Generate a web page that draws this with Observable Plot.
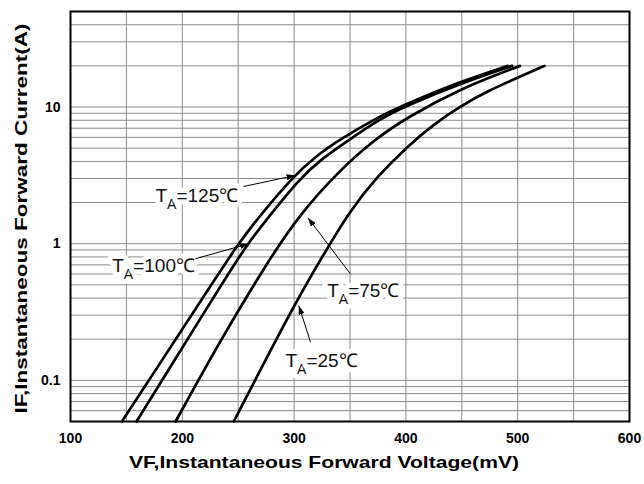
<!DOCTYPE html>
<html><head><meta charset="utf-8">
<script src="https://cdn.jsdelivr.net/npm/d3@7"></script>
<script src="https://cdn.jsdelivr.net/npm/@observablehq/plot@0.6"></script>
<style>body{margin:0;background:#fff}</style>
</head><body><div id="chart"></div>
<script>
// axis ticks and grid
const xTicks = [100, 200, 300, 400, 500, 600];
const yTicks = [0.1, 1, 10];
const xGrid = [100, 150, 200, 250, 300, 350, 400, 450, 500, 550, 600];
const yGrid = [0.05, 0.06, 0.07, 0.08, 0.09,
  0.1, 0.2, 0.3, 0.4, 0.5, 0.6, 0.7, 0.8, 0.9,
  1, 2, 3, 4, 5, 6, 7, 8, 9,
  10, 20, 30, 40];

// series: VF (mV) and IF (A)
const series = ["125", "100", "75", "25"];
const vf125 = [146, 180, 215, 250, 266, 299, 320, 341, 377, 400, 450, 491];
const if125 = [0.05, 0.133, 0.365, 1.0, 1.48, 3.1, 4.4, 5.8, 8.6, 10.5, 15.5, 20];
const vf100 = [159, 190, 225, 258, 275, 304, 325, 347, 377, 400, 450, 495];
const if100 = [0.05, 0.128, 0.37, 1.0, 1.48, 2.95, 4.2, 5.6, 8.2, 10.2, 15.0, 20];
const vf75 = [194, 234, 277, 304, 340, 371, 400, 450, 502];
const if75 = [0.05, 0.196, 0.75, 1.6, 3.4, 5.7, 8.3, 13.8, 20];
const vf25 = [246, 270, 301, 325, 350, 375, 402, 425, 450, 475, 500, 524];
const if25 = [0.05, 0.12, 0.366, 0.8, 1.75, 3.15, 5.2, 7.5, 10.3, 13.3, 16.4, 20];

// annotations
const labelText = ["TA=125℃", "TA=100℃", "TA=75℃", "TA=25℃"];
const labelX = [176, 137.3, 329.6, 292.3];
const labelY = [2.25, 0.693, 0.448, 0.138];
const arrowX1 = [254.7, 211.8, 350.4, 314.7];
const arrowY1 = [2.62, 0.776, 0.60, 0.19];
const arrowX2 = [301.3, 259.5, 312.3, 304.2];
const arrowY2 = [3.16, 1.0, 1.55, 0.353];

const xTitle = "VF,Instantaneous Forward Voltage(mV)";
const yTitle = "IF,Instantaneous Forward Current(A)";

const vfs = [vf125, vf100, vf75, vf25];
const ifs = [if125, if100, if75, if25];
const rows = [];
series.forEach((s, k) => vfs[k].forEach((v, j) => rows.push({series: s, vf: v, i: ifs[k][j]})));
const labels = labelText.map((t, k) => ({text: t, x: labelX[k], y: labelY[k]}));
const arrows = labelText.map((t, k) => ({x1: arrowX1[k], y1: arrowY1[k], x2: arrowX2[k], y2: arrowY2[k]}));

const chart = Plot.plot({
  width: 644, height: 484,
  marginLeft: 70, marginRight: 15, marginTop: 11, marginBottom: 63,
  style: {fontFamily: "'Liberation Sans', Arial, sans-serif", fontSize: "14px", fontWeight: "bold", background: "#fff", color: "#000"},
  x: {domain: [100, 600], ticks: xTicks, tickSize: 0, tickPadding: 12, label: null},
  y: {type: "log", domain: [0.05, 50], ticks: yTicks, tickFormat: d => String(d), tickSize: 0, tickPadding: 10, label: null},
  marks: [
    Plot.ruleX(xGrid, {stroke: "#8c8c8c", strokeWidth: 1}),
    Plot.ruleY(yGrid, {stroke: "#8c8c8c", strokeWidth: 1}),
    Plot.text(labels, {x: "x", y: "y", text: "text", textAnchor: "start", fontSize: 19, fontWeight: "normal",
      fill: "#111", stroke: "white", strokeWidth: 10}),
    Plot.line(rows, {x: "vf", y: "i", z: "series", curve: "basis", stroke: "black", strokeWidth: 2.7}),
    Plot.link(arrows, {x1: "x1", y1: "y1", x2: "x2", y2: "y2", stroke: "black", strokeWidth: 1}),
    Plot.frame({stroke: "black", strokeWidth: 2}),
    Plot.text([xTitle], {text: d => d, frameAnchor: "bottom", dx: -26, dy: 46, fontSize: 17}),
    Plot.text([yTitle], {text: d => d, frameAnchor: "left", textAnchor: "middle", rotate: -90, dx: -49, dy: 2, fontSize: 17})
  ]
});

const svg = d3.select(chart);
svg.append("defs").append("marker")
  .attr("id", "ahead").attr("viewBox", "0 -3 9 6").attr("refX", 9).attr("refY", 0)
  .attr("markerWidth", 9).attr("markerHeight", 6).attr("markerUnits", "userSpaceOnUse").attr("orient", "auto")
  .append("path").attr("d", "M0,-3L9,0L0,3Z").attr("fill", "black");
svg.selectAll('g[aria-label="link"] path').attr("marker-end", "url(#ahead)");

svg.selectAll("text").each(function () {
  const t = this.textContent;
  const s = d3.select(this);
  if (t.startsWith("TA=")) {
    s.text(null);
    s.append("tspan").text("T");
    s.append("tspan").attr("dy", 7).attr("font-size", 14).text("A");
    s.append("tspan").attr("dy", -7).text(t.slice(2));
  } else if (t === xTitle || t === yTitle) {
    s.attr("textLength", 390).attr("lengthAdjust", "spacingAndGlyphs");
  }
});

document.getElementById("chart").appendChild(chart);
</script>
</body></html>
